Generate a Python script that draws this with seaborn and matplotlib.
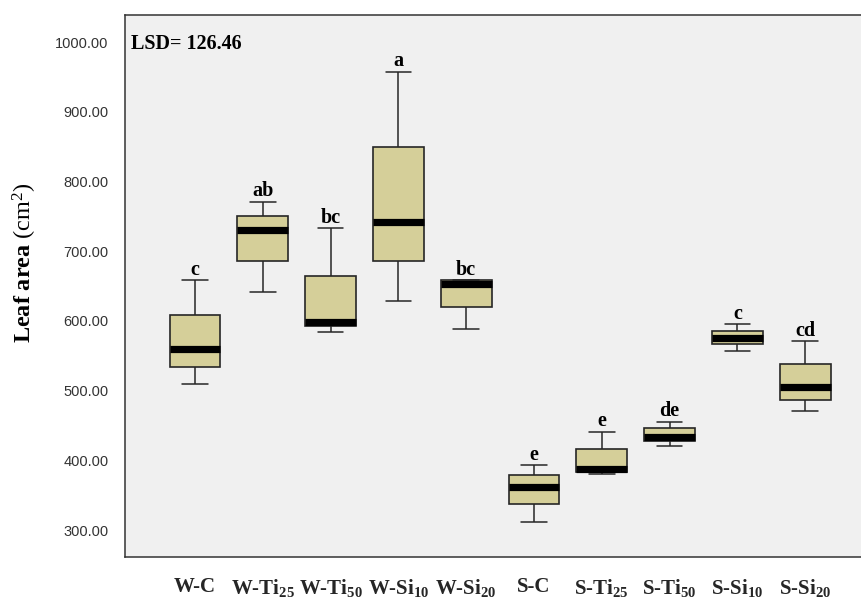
import numpy as np
import pandas as pd
import matplotlib
matplotlib.use("Agg")
import matplotlib.pyplot as plt
import seaborn as sns

# Treatments (W = well-watered, S = stressed) and their five-number summaries (cm2)
groups = ["W-C", "W-Ti25", "W-Ti50", "W-Si10", "W-Si20",
          "S-C", "S-Ti25", "S-Ti50", "S-Si10", "S-Si20"]
tick_labels = ["W-C", r"W-Ti$_{\mathbf{25}}$", r"W-Ti$_{\mathbf{50}}$",
               r"W-Si$_{\mathbf{10}}$", r"W-Si$_{\mathbf{20}}$",
               "S-C", r"S-Ti$_{\mathbf{25}}$", r"S-Ti$_{\mathbf{50}}$",
               r"S-Si$_{\mathbf{10}}$", r"S-Si$_{\mathbf{20}}$"]
minimum = [510, 641, 584, 628, 588, 311, 380, 420, 557, 470]
q1      = [534, 686, 592, 686, 620, 337, 383, 428, 567, 487]
median  = [559, 731, 599, 742, 653, 362, 388, 434, 576, 505]
q3      = [608, 750, 665, 850, 658, 379, 416, 446, 586, 538]
maximum = [658, 771, 733, 957, 658, 393, 441, 455, 595, 571]
letters = ["c", "ab", "bc", "a", "bc", "e", "e", "de", "c", "cd"]
lsd_text = "LSD= 126.46"
y_ticks = [300, 400, 500, 600, 700, 800, 900, 1000]

# Long-form table: five observations per treatment give exactly these quartiles
rows = []
for g, a, b, c, d, e in zip(groups, minimum, q1, median, q3, maximum):
    for v in (a, b, c, d, e):
        rows.append({"treatment": g, "leaf_area": v})
df = pd.DataFrame(rows)

sns.set_style("white")
plt.rcParams["mathtext.fontset"] = "custom"
plt.rcParams["mathtext.rm"] = "Liberation Serif"
plt.rcParams["mathtext.it"] = "Liberation Serif:italic"
plt.rcParams["mathtext.bf"] = "Liberation Serif:bold"

W, H = 861, 601
fig = plt.figure(figsize=(W / 100, H / 100), dpi=100)
fig.patch.set_facecolor("white")
ax_left, ax_right, ax_top, ax_bottom = 125, 875, 15, 557
ax = fig.add_axes([ax_left / W, 1 - ax_bottom / H,
                   (ax_right - ax_left) / W, (ax_bottom - ax_top) / H])
ax.set_facecolor("#F0F0F0")

edge = "#262626"
sns.boxplot(data=df, x="treatment", y="leaf_area", order=groups,
            color="#D5CF99", width=0.75, whis=(0, 100), ax=ax,
            linecolor=edge, linewidth=1.2, saturation=1,
            boxprops=dict(facecolor="#D5CF99", edgecolor=edge, linewidth=1.2),
            medianprops=dict(color="black", linewidth=5.2, solid_capstyle="butt"),
            whiskerprops=dict(color=edge, linewidth=1.1),
            capprops=dict(color=edge, linewidth=1.1))

# Category spacing and value range of the panel
step_px = 67.8
first_px = 195
ax.set_xlim(-(first_px - ax_left) / step_px, (ax_right - first_px) / step_px)
px_per_unit = (530 - 42) / 700
ax.set_ylim(300 - (ax_bottom - 530) / px_per_unit,
            1000 + (42 - ax_top) / px_per_unit)

ax.set_yticks(y_ticks)
ax.set_yticklabels([f"{t:.2f}" for t in y_ticks],
                   fontsize=10.5, color="#333333", family="Liberation Sans")
ax.set_xticks(range(len(groups)))
ax.set_xticklabels(tick_labels, fontsize=15, fontweight="bold",
                   family="Liberation Serif")
ax.tick_params(axis="y", direction="out", length=10.8, width=0.9,
               color="#333333", pad=1)
ax.tick_params(axis="x", direction="out", length=7.2, width=0.9,
               color="#333333", pad=7)
ax.set_xlabel("")
ax.set_ylabel("")

for side in ("left", "bottom", "top"):
    ax.spines[side].set_visible(True)
    ax.spines[side].set_color("#333333")
    ax.spines[side].set_linewidth(1.1)
ax.spines["right"].set_visible(False)

# Significance letters above each whisker
for i, (top, lab) in enumerate(zip(maximum, letters)):
    ax.annotate(lab, xy=(i, top), xytext=(0, 4), textcoords="offset points",
                ha="center", va="baseline", fontsize=14.5, fontweight="bold",
                family="Liberation Serif", color="black")

ax.annotate(lsd_text, xy=(0, 1), xycoords="axes fraction",
            xytext=(4.5, -24.5), textcoords="offset points",
            ha="left", va="baseline", fontsize=14.5, fontweight="bold",
            family="Liberation Serif", color="black")

fig.text(25 / W, 1 - 263 / H, r"$\mathbf{Leaf\ area}$ (cm$^{2}$)",
         rotation=90, ha="center", va="center", fontsize=17.5,
         family="Liberation Serif", color="black")

fig.savefig("out.png", dpi=100, facecolor="white")
